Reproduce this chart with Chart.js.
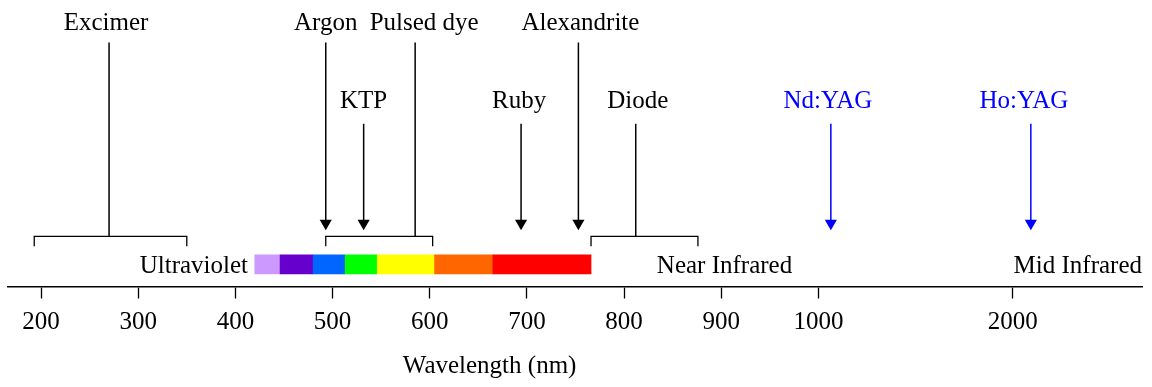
<!DOCTYPE html>
<html>
<head>
<meta charset="utf-8">
<script src="https://cdn.jsdelivr.net/npm/chart.js@4/dist/chart.umd.min.js"></script>
<style>
  html, body { margin: 0; padding: 0; background: #fff; }
</style>
</head>
<body>
<canvas id="spectrum" width="1152" height="387"></canvas>
<script>
// ---- data (wavelengths in nm) ----
const tickNm = [200, 300, 400, 500, 600, 700, 800, 900, 1000, 2000];
const tickLabels = ["200", "300", "400", "500", "600", "700", "800", "900", "1000", "2000"];

const laserNames = ["Excimer", "Argon", "KTP", "Pulsed dye", "Ruby", "Alexandrite", "Diode", "Nd:YAG", "Ho:YAG"];
const laserNm = [270, 493, 532, 585, 694, 753, 812, 1064, 2093];
const laserRow = [1, 1, 2, 1, 2, 1, 2, 2, 2];          // 1 = top row label, 2 = lower row
const laserMark = ["bracket", "arrow", "arrow", "bracket", "arrow", "arrow", "bracket", "arrow", "arrow"];
const laserColor = ["#000", "#000", "#000", "#000", "#000", "#000", "#000", "#0000ff", "#0000ff"];

const bracketNames = ["Excimer", "Pulsed dye", "Diode"];
const bracketFrom = [193, 493, 766];
const bracketTo = [350, 603, 876];

const bandEdges = [420, 446, 480, 513, 546, 605, 665, 766];
const bandColors = ["#cc99ff", "#6600cc", "#0066ff", "#00ff00", "#ffff00", "#ff6600", "#ff0000"];

const regionNames = ["Ultraviolet", "Near Infrared", "Mid Infrared"];
const regionEndNm = [413, 973, 2665];   // right edge of each label

// axis is linear up to 1000 nm, then compressed (1000 -> 2000 spans two steps)
function toAxis(nm) {
  return nm <= 1000 ? (nm - 200) / 100 : 8 + (nm - 1000) / 500;
}

// ---- layout levels (px above the axis line) ----
const LV = {
  band: 22.8, foot: 41.5, bracket: 51.5, arrowHead: 65,
  tallTop: 251, shortTop: 167.5, row1: 270.5, row2: 190.5, region: 21
};
const FONT = '25px "Liberation Serif", "Times New Roman", serif';
const labelNudge = { "Pulsed dye": 9, "Excimer": -3, "Ruby": -2, "Alexandrite": 2, "Diode": 2, "Nd:YAG": -3, "Ho:YAG": -7 };

const datasets = [];

datasets.push({
  type: "bar",
  indexAxis: "y",
  data: bandColors.map((c, i) => ({ y: LV.band, x: [toAxis(bandEdges[i]), toAxis(bandEdges[i + 1])] })),
  backgroundColor: bandColors,
  borderWidth: 0,
  barThickness: 19,
  grouped: false
});

bracketNames.forEach((n, i) => {
  const a = toAxis(bracketFrom[i]), b = toAxis(bracketTo[i]);
  datasets.push({
    type: "scatter", showLine: true,
    data: [{ x: a, y: LV.foot }, { x: a, y: LV.bracket }, { x: b, y: LV.bracket }, { x: b, y: LV.foot }],
    borderColor: "#000", borderWidth: 1.3, pointRadius: 0
  });
});

laserNames.forEach((n, i) => {
  const x = toAxis(laserNm[i]);
  const top = laserRow[i] === 1 ? LV.tallTop : LV.shortTop;
  const isArrow = laserMark[i] === "arrow";
  const bottom = isArrow ? LV.arrowHead : LV.bracket;
  datasets.push({
    type: "scatter", showLine: true,
    data: [{ x: x, y: top }, { x: x, y: bottom }],
    borderColor: laserColor[i], borderWidth: 1.5,
    pointRadius: isArrow ? [0, 7] : 0,
    pointStyle: "triangle", rotation: 180,
    pointBackgroundColor: laserColor[i], pointBorderWidth: 0
  });
});

const textPlugin = {
  id: "texts",
  afterDatasetsDraw(chart) {
    const ctx = chart.ctx, xs = chart.scales.x, ys = chart.scales.y;
    ctx.save();
    ctx.font = FONT;
    ctx.textBaseline = "middle";
    ctx.textAlign = "center";
    laserNames.forEach((n, i) => {
      ctx.fillStyle = laserColor[i];
      const px = xs.getPixelForValue(toAxis(laserNm[i])) + (labelNudge[n] || 0);
      ctx.fillText(n, px, ys.getPixelForValue(laserRow[i] === 1 ? LV.row1 : LV.row2));
    });
    ctx.fillStyle = "#000";
    ctx.textAlign = "right";
    regionNames.forEach((n, i) => {
      ctx.fillText(n, xs.getPixelForValue(toAxis(regionEndNm[i])), ys.getPixelForValue(LV.region));
    });
    ctx.textAlign = "center";
    ctx.fillText("Wavelength (nm)", chart.width * 0.425, 366);
    ctx.restore();
  }
};

new Chart(document.getElementById("spectrum"), {
  type: "scatter",
  data: { datasets: datasets },
  options: {
    responsive: false,
    animation: false,
    devicePixelRatio: 1,
    layout: { padding: { left: 8, right: 10, top: 0, bottom: 41.5 } },
    plugins: { legend: { display: false }, tooltip: { enabled: false } },
    scales: {
      x: {
        type: "linear",
        min: toAxis(166),
        max: toAxis(2665),
        afterBuildTicks: s => { s.ticks = tickNm.map(v => ({ value: toAxis(v) })); },
        ticks: {
          callback: (v, i) => tickLabels[i],
          font: { family: '"Liberation Serif", "Times New Roman", serif', size: 25 },
          color: "#000", padding: 8.5, maxRotation: 0, autoSkip: false
        },
        grid: { drawOnChartArea: false, drawTicks: true, tickLength: 12, tickColor: "#000", tickWidth: 1.3 },
        border: { display: true, color: "#000", width: 1.6 }
      },
      y: { type: "linear", display: false, offset: false, grid: { offset: false }, min: 0, max: 287.5 }
    }
  },
  plugins: [textPlugin]
});
</script>
</body>
</html>
